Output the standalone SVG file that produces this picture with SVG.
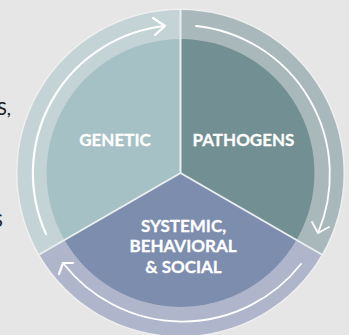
<svg xmlns="http://www.w3.org/2000/svg" width="349" height="335" viewBox="0 0 349 335">
<style>
.lbl{font-family:"Lato","Noto Sans",sans-serif;font-weight:700;font-size:17px;fill:#fff;stroke:#fff;stroke-width:.3px;text-anchor:middle}
.cut{font-family:"Lato","Noto Sans",sans-serif;font-weight:500;font-size:18px;fill:#222}
.arrow{fill:none;stroke:#fff;stroke-linecap:round;stroke-linejoin:round}
.sep{fill:none;stroke:#e9eeee;stroke-width:2}
</style>
<rect width="349" height="335" fill="#e6e6e6"/>
<circle cx="180.5" cy="173" r="164.500" fill="#f0f0f0"/>
<g id="genetic">
<path d="M180.5 173L39.3 254.5A163 163 0 0 1 180.5 10Z" fill="#c3d3d6"/>
<path d="M180.5 173L64.5 240A134 134 0 0 1 180.5 39Z" fill="#a6c1c5"/>
<text class="lbl" x="115" y="146">GENETIC</text>
</g>
<g id="pathogens">
<path d="M180.5 173V10A163 163 0 0 1 321.7 254.5Z" fill="#a9b9bb"/>
<path d="M180.5 173V39A134 134 0 0 1 296.5 240Z" fill="#728f93"/>
<text class="lbl" x="243.5" y="146">PATHOGENS</text>
</g>
<g id="systemic">
<path d="M180.500 173L321.700 254.500A163 163 0 0 1 39.300 254.500Z" fill="#afb6cb"/>
<path d="M180.500 173L296.500 240A134 134 0 0 1 64.500 240Z" fill="#7d8dae"/>
<text class="lbl" x="183.500" y="232">SYSTEMIC,</text>
<text class="lbl" x="183" y="252">BEHAVIORAL</text>
<text class="lbl" x="183.500" y="273">&amp; SOCIAL</text>
</g>
<g id="connectors">
<path class="sep" d="M180.500 10V173L39.300 254.500M180.500 173L321.700 254.500"/>
<path class="arrow" stroke-width="2.200" d="M46 234A148 148 0 0 1 165 26"/>
<path class="arrow" stroke-width="2.200" d="M153 18L165 26L155 35"/>
<path class="arrow" stroke-width="1.800" d="M196 26A149.500 149.500 0 0 1 318 233"/>
<path class="arrow" stroke-width="1.800" d="M312 222L318 233L329 227"/>
<path class="arrow" stroke-width="1.800" d="M301 264A151 151 0 0 1 63 263"/>
<path class="arrow" stroke-width="2.200" d="M59 274L63 263L73 263"/>
</g>
<text class="cut" x="-3" y="115">S,</text>
<text class="cut" x="-7" y="227">S</text>
</svg>
